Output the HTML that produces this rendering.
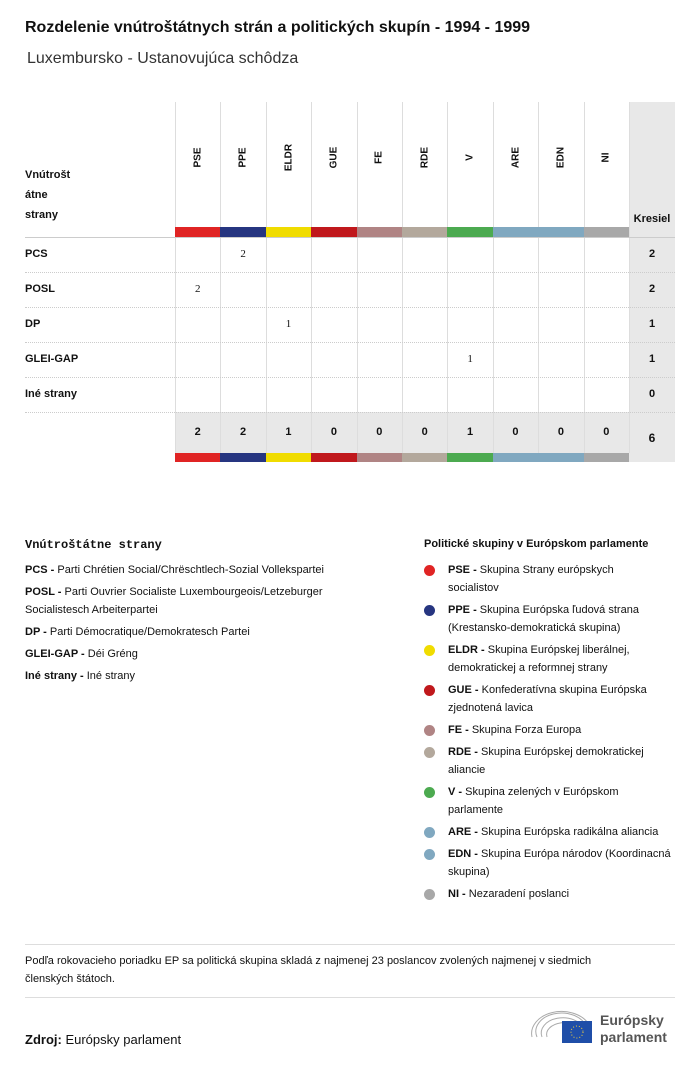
<!DOCTYPE html>
<html><head><meta charset="utf-8">
<style>
body{margin:0;width:700px;height:1065px;background:#fff;font-family:"Liberation Sans",sans-serif;color:#111;position:relative;overflow:hidden}
.a{position:absolute}
.t{font-size:11px}
.b{font-weight:bold}
.leg{position:absolute;font-size:11px;line-height:18px}
</style></head><body>
<div class="a b" style="left:25px;top:19px;font-size:16px">Rozdelenie vnútroštátnych strán a politických skupín - 1994 - 1999</div>
<div class="a" style="left:27px;top:50px;font-size:16px;color:#333">Luxembursko - Ustanovujúca schôdza</div>
<div id="tbl"></div>
<div class="a b" style="left:25px;top:538px;font-size:12px;font-family:'Liberation Mono',monospace">Vnútroštátne strany</div>
<div class="leg" style="left:25px;top:561px;width:345px;line-height:18px">
<div style="margin-bottom:4px"><b>PCS -</b> Parti Chrétien Social/Chrëschtlech-Sozial Vollekspartei</div>
<div style="margin-bottom:4px"><b>POSL -</b> Parti Ouvrier Socialiste Luxembourgeois/Letzeburger Socialistesch Arbeiterpartei</div>
<div style="margin-bottom:4px"><b>DP -</b> Parti Démocratique/Demokratesch Partei</div>
<div style="margin-bottom:4px"><b>GLEI-GAP -</b> Déi Gréng</div>
<div><b>Iné strany -</b> Iné strany</div>
</div>
<div class="a b" style="left:424px;top:538px;font-size:11px">Politické skupiny v Európskom parlamente</div>
<div id="glg"></div>
<div class="a" style="left:25px;top:944px;width:650px;height:1px;background:#ddd"></div>
<div class="a t" style="left:25px;top:952px;width:615px;line-height:18px">Podľa rokovacieho poriadku EP sa politická skupina skladá z najmenej 23 poslancov zvolených najmenej v siedmich členských štátoch.</div>
<div class="a" style="left:25px;top:997px;width:650px;height:1px;background:#ddd"></div>
<div class="a" style="left:25px;top:1032px;font-size:13px"><b>Zdroj:</b> Európsky parlament</div>
<svg class="a" style="left:528px;top:1007px" width="70" height="38">
<g fill="none" stroke="#aaa" stroke-width="1"><path d="M4 30 A30 22 0 0 1 60 16"/><path d="M9 30 A25 18 0 0 1 58 19"/><path d="M14 30 A20 14 0 0 1 56 22"/><path d="M19 30 A15 10 0 0 1 54 25"/></g>
<rect x="34" y="14" width="30" height="22" fill="#1f4ea8"/><circle cx="49" cy="25" r="6" fill="none" stroke="#f4d03f" stroke-dasharray="1 2"/>
</svg>
<div class="a b" style="left:600px;top:1012px;font-size:14px;line-height:17px;color:#555">Európsky<br>parlament</div>
<script>
const groups=["PSE","PPE","ELDR","GUE","FE","RDE","V","ARE","EDN","NI"];
const colors=["#e02424","#263580","#f0dc00","#c0181c","#b08484","#b3a89c","#4caa50","#80a8c0","#80a8c0","#a8a8a8"];
const parties=["PCS","POSL","DP","GLEI-GAP","Iné strany"];
const seats=[[0,2,0,0,0,0,0,0,0,0],[2,0,0,0,0,0,0,0,0,0],[0,0,1,0,0,0,0,0,0,0],[0,0,0,0,0,0,1,0,0,0],[0,0,0,0,0,0,0,0,0,0]];
const groupNames=["Skupina Strany európskych<br>socialistov","Skupina Európska ľudová strana (Krestansko-demokratická skupina)","Skupina Európskej liberálnej, demokratickej a reformnej strany","Konfederatívna skupina Európska zjednotená lavica","Skupina Forza Europa","Skupina Európskej demokratickej aliancie","Skupina zelených v Európskom<br>parlamente","Skupina Európska radikálna aliancia","Skupina Európa národov (Koordinacná skupina)","Nezaradení poslanci"];
(function(){
const T=document.getElementById('tbl');
const x0=175,cw=45.4,topY=102,hb=227,rh=35,rowTop=237,kx=629,kw=46;
function mk(p,css,txt){const d=document.createElement('div');d.style.cssText='position:absolute;'+css;if(txt!==undefined)d.textContent=txt;p.appendChild(d);return d;}
let rowsEnd=rowTop+parties.length*rh, totEnd=rowsEnd+41;
let k=mk(T,`left:${kx}px;top:${topY}px;width:${kw}px;height:${totEnd+9-topY}px;background:#e8e8e8`);


let tb=mk(T,`left:${x0}px;top:${rowsEnd}px;width:${kx-x0}px;height:${totEnd-rowsEnd}px;background:#e8e8e8`);


let kl=mk(T,`left:${kx}px;top:${hb-14}px;width:${kw}px;text-align:center;font-size:11px;font-weight:bold`,'Kresiel');


let rl=mk(T,`left:25px;top:165px;font-size:11px;font-weight:bold;line-height:20px`,'');rl.innerHTML='Vnútrošt<br>átne<br>strany';


for(let i=0;i<=groups.length;i++){let v=mk(T,`left:${x0+i*cw}px;top:${topY}px;width:1px;height:${totEnd-topY}px;background:#ddd`);

}
let hl=mk(T,`left:25px;top:${rowTop}px;width:650px;height:1px;background:#ccc`);


groups.forEach((g,i)=>{
 let h=mk(T,`left:${x0+i*cw+cw/2-20}px;top:152px;width:40px;text-align:center;font-size:10px;font-weight:bold;transform:rotate(-90deg);white-space:nowrap`,g);
 
 
 let c=mk(T,`left:${x0+i*cw}px;top:${hb}px;width:${cw+0.5}px;height:10px;background:${colors[i]}`);
 
 
 let c2=mk(T,`left:${x0+i*cw}px;top:${totEnd}px;width:${cw+0.5}px;height:9px;background:${colors[i]}`);
 
 
 let tot=seats.reduce((s,r)=>s+r[i],0);
 let tt=mk(T,`left:${x0+i*cw}px;top:${rowsEnd+14}px;width:${cw}px;text-align:center;font-size:11px;font-weight:bold`,String(tot));
 
 
});
let grand=0;
parties.forEach((p,r)=>{
 let y=rowTop+r*rh;
 let l=mk(T,`left:25px;top:${y+11}px;font-size:11px;font-weight:bold`,p);
 
 
 let ln=mk(T,`left:25px;top:${y+rh}px;width:650px;height:0;border-top:1px dotted #ccc`);
 
 
 let s=0;
 seats[r].forEach((v,i)=>{s+=v;if(v){let c=mk(T,`left:${x0+i*cw}px;top:${y+11}px;width:${cw}px;text-align:center;font-size:11px;font-family:'Liberation Serif',serif`,String(v));
  
  }});
 grand+=s;
 let rt=mk(T,`left:${kx}px;top:${y+11}px;width:${kw}px;text-align:center;font-size:11px;font-weight:bold`,String(s));
 
 
});
let gt=mk(T,`left:${kx}px;top:${rowsEnd+19}px;width:${kw}px;text-align:center;font-size:12px;font-weight:bold`,String(grand));


const G=document.getElementById('glg');
const gy=[561,601,641,681,721,743,783,823,845,885];
groups.forEach((g,i)=>{
 let d=mk(G,`left:424px;top:${gy[i]+4}px;width:11px;height:11px;border-radius:50%;background:${colors[i]}`);
 
 
 let t=mk(G,`left:448px;top:${gy[i]}px;width:230px;font-size:11px;line-height:18px`,'');
 t.innerHTML='<b>'+g+' -</b> '+groupNames[i];
 
 
});
})();
</script>
</body></html>
